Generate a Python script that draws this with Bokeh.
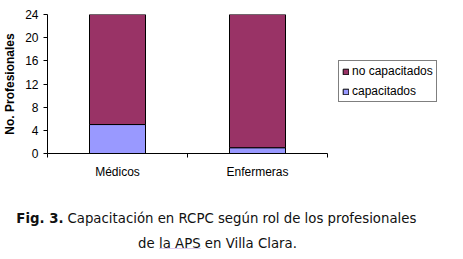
from bokeh.plotting import figure
from bokeh.models import (ColumnDataSource, FixedTicker, Range1d, Legend,
                          LegendItem, Label)
from bokeh.layouts import column, row
from bokeh.embed import file_html
from bokeh.resources import INLINE

# Data
roles = ["Médicos", "Enfermeras"]
capacitados = [5, 1]
no_capacitados = [19, 23]
y_ticks = [0, 4, 8, 12, 16, 20, 24]
series_labels = ["capacitados", "no capacitados"]

COL_CAP = "#9999FF"
COL_NOCAP = "#993366"
FONT = "Liberation Sans"
CAP_FONT = "DejaVu Sans"
CAP_SIZE = "13.3px"
TXT = "#111111"

CHART_W, CHART_H = 335, 183
LEG_W = 463 - CHART_W
CAP_H = 259 - CHART_H
BORDER_TOP, BORDER_BOTTOM = 14, 30


def blank(fig):
    fig.outline_line_color = None
    fig.grid.visible = False
    fig.background_fill_color = "white"
    fig.border_fill_color = "white"
    return fig


# ---- stacked bar chart ----
x_pos = [i + 0.5 for i in range(len(roles))]
source = ColumnDataSource(dict(x=x_pos, roles=roles,
                               cap=capacitados, nocap=no_capacitados))

p = figure(width=CHART_W, height=CHART_H, output_backend="svg",
           toolbar_location=None,
           x_range=Range1d(0, len(roles)), y_range=Range1d(0, 24),
           min_border_left=47, min_border_right=8,
           min_border_top=BORDER_TOP, min_border_bottom=BORDER_BOTTOM)
blank(p)

r = p.vbar_stack(["cap", "nocap"], x="x", width=0.4, source=source,
                 fill_color=[COL_CAP, COL_NOCAP], line_color="black",
                 line_width=1)

ya = p.yaxis[0]
ya.ticker = FixedTicker(ticks=y_ticks)
ya.axis_label = "No. Profesionales"
ya.axis_label_text_font = FONT
ya.axis_label_text_font_size = "12px"
ya.axis_label_text_font_style = "bold"
ya.axis_label_text_color = "black"
ya.axis_label_standoff = 5
ya.major_label_text_font = FONT
ya.major_label_text_font_size = "12px"
ya.major_label_text_color = "black"
ya.major_label_standoff = 5
ya.major_tick_out = 4
ya.major_tick_in = 0
ya.minor_tick_out = 0
ya.minor_tick_in = 0
ya.axis_line_color = "black"
ya.major_tick_line_color = "black"

# labels at bar centres, tick marks at category boundaries
xa = p.xaxis[0]
xa.ticker = FixedTicker(ticks=x_pos, minor_ticks=list(range(len(roles) + 1)))
xa.major_label_overrides = {x: lab for x, lab in zip(x_pos, roles)}
xa.major_label_text_font = FONT
xa.major_label_text_font_size = "12px"
xa.major_label_text_color = "black"
xa.major_label_standoff = 7
xa.major_tick_out = 0
xa.major_tick_in = 0
xa.minor_tick_out = 4
xa.minor_tick_in = 0
xa.minor_tick_line_color = "black"
xa.axis_line_color = "black"

# ---- legend panel, frame aligned with the chart's frame ----
lg = figure(width=LEG_W, height=CHART_H, output_backend="svg",
            toolbar_location=None, x_range=Range1d(0, 1),
            y_range=Range1d(0, 1), x_axis_location=None,
            y_axis_location=None, min_border_left=0, min_border_right=0,
            min_border_top=BORDER_TOP, min_border_bottom=BORDER_BOTTOM)
blank(lg)
# swatch renderers placed outside the visible range; only their legend glyphs show
sw_nocap = lg.vbar(x=[5], top=[1], width=0.1, fill_color=COL_NOCAP,
                   line_color="black")
sw_cap = lg.vbar(x=[5], top=[1], width=0.1, fill_color=COL_CAP,
                 line_color="black")
legend = Legend(items=[LegendItem(label=series_labels[1], renderers=[sw_nocap]),
                       LegendItem(label=series_labels[0], renderers=[sw_cap])],
                location=(3, 51), orientation="vertical")
legend.label_text_font = FONT
legend.label_text_font_size = "12px"
legend.label_text_color = "black"
legend.glyph_width = 7
legend.glyph_height = 7
legend.label_height = 12
legend.label_standoff = 3
legend.padding = 3
legend.spacing = 6
legend.margin = 0
legend.border_line_color = "black"
legend.border_line_width = 1
legend.background_fill_alpha = 1
lg.add_layout(legend, "center")

# ---- caption ----
cap = figure(width=463, height=CAP_H, output_backend="svg",
             toolbar_location=None, x_range=Range1d(0, 463),
             y_range=Range1d(CAP_H, 0), x_axis_location=None,
             y_axis_location=None, min_border=0)
blank(cap)
cap.add_layout(Label(x=63, y=35, text="Fig. 3.", text_font=CAP_FONT,
                     text_font_size=CAP_SIZE, text_font_style="bold",
                     text_align="right", text_baseline="middle",
                     text_color=TXT))
cap.add_layout(Label(x=67, y=35,
                     text="Capacitación en RCPC según rol de los profesionales",
                     text_font=CAP_FONT, text_font_size=CAP_SIZE,
                     text_align="left", text_baseline="middle",
                     text_color=TXT))
cap.add_layout(Label(x=217, y=60, text="de la APS en Villa Clara.",
                     text_font=CAP_FONT, text_font_size=CAP_SIZE,
                     text_align="center", text_baseline="middle",
                     text_color=TXT))
# dotted proofing underline beneath "la APS"
cap.line(x=[159, 201], y=[65, 65], line_color="#9966cc",
         line_dash="1 1", line_width=1, line_alpha=0.7)

layout = column(row(p, lg, spacing=0), cap, spacing=0)
open("out.html", "w").write(file_html(layout, INLINE))
